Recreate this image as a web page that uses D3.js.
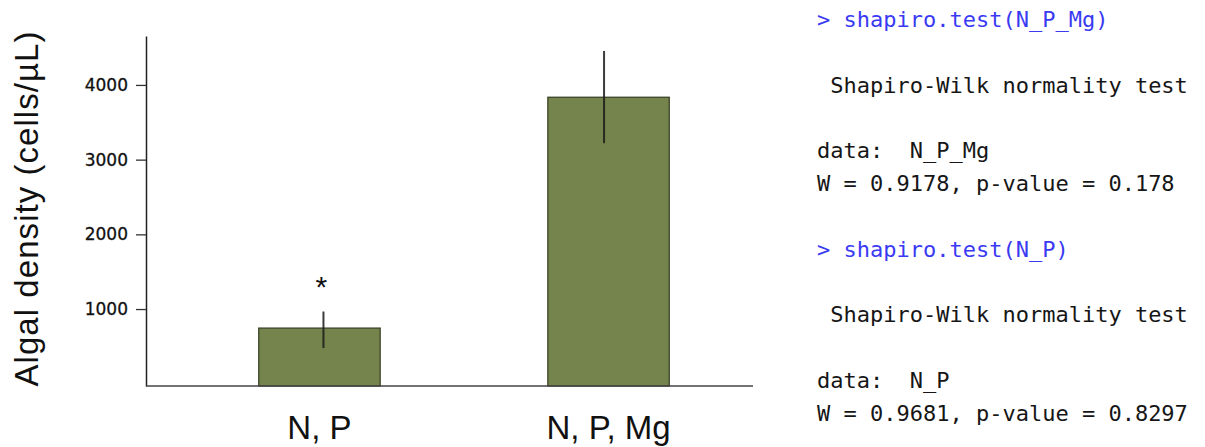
<!DOCTYPE html>
<html>
<head>
<meta charset="utf-8">
<script src="https://cdn.jsdelivr.net/npm/d3@7"></script>
<style>
body{margin:0;background:#fff}
svg{display:block}
.console text{white-space:pre}
</style>
</head>
<body>
<script>
// chart values
var categories = ["N, P", "N, P, Mg"]
var means = [745, 3835]
var errLow = [478, 3220]
var errHigh = [967, 4455]
var marks = ["*", ""]
var yTicks = [1000, 2000, 3000, 4000]
var yTitle = "Algal density (cells/\u00B5L)"

// R console output shown at the right
var consoleText = [
	"> shapiro.test(N_P_Mg)",
	"",
	" Shapiro-Wilk normality test",
	"",
	"data:  N_P_Mg",
	"W = 0.9178, p-value = 0.178",
	"",
	"> shapiro.test(N_P)",
	"",
	" Shapiro-Wilk normality test",
	"",
	"data:  N_P",
	"W = 0.9681, p-value = 0.8297"
]
var consoleIsCommand = [true,false,false,false,false,false,false,true,false,false,false,false,false]

var width = 1205
var height = 447
var barColor = "#74844c"

var svg = d3.select("body").append("svg")
	.attr("width", width)
	.attr("height", height)

var scaleY = d3.scaleLinear().domain([-30, 4655]).range([386, 36])
var scaleX = d3.scaleBand().domain(categories)
	.range([146, 782])
	.paddingInner(0.58)
	.paddingOuter(0.39)

// small sideways shift of each error whisker, as in the original
var errNudge = [4, -4.5]

var bars = svg.append("g").attr("class", "bars")
bars.selectAll("rect")
	.data(categories)
	.enter()
	.append("rect")
	.attr("x", function(d){return scaleX(d)})
	.attr("y", function(d, i){return scaleY(means[i])})
	.attr("width", scaleX.bandwidth())
	.attr("height", function(d, i){return scaleY.range()[0] - scaleY(means[i])})
	.attr("fill", barColor)
	.attr("stroke", "#3c4428")
	.attr("stroke-width", 1.3)

bars.selectAll("line.err")
	.data(categories)
	.enter()
	.append("line")
	.attr("class", "err")
	.attr("x1", function(d, i){return scaleX(d) + scaleX.bandwidth()/2 + errNudge[i]})
	.attr("x2", function(d, i){return scaleX(d) + scaleX.bandwidth()/2 + errNudge[i]})
	.attr("y1", function(d, i){return scaleY(errHigh[i])})
	.attr("y2", function(d, i){return scaleY(errLow[i])})
	.attr("stroke", "#1a1a1a")
	.attr("stroke-opacity", 0.85)
	.attr("stroke-width", 2)

bars.selectAll("text.mark")
	.data(categories)
	.enter()
	.append("text")
	.attr("class", "mark")
	.attr("x", function(d, i){return scaleX(d) + scaleX.bandwidth()/2 + 2})
	.attr("y", function(d, i){return scaleY(errHigh[i]) - 15})
	.attr("text-anchor", "middle")
	.attr("font-family", "Liberation Sans, Arial, sans-serif")
	.attr("font-size", 30)
	.attr("fill", "#111")
	.text(function(d, i){return marks[i]})

// y axis
var yAxis = d3.axisLeft(scaleY)
	.tickValues(yTicks)
	.tickFormat(d3.format("d"))
	.tickSize(10)
	.tickSizeOuter(0)
	.tickPadding(8)
var gy = svg.append("g")
	.attr("class", "y axis")
	.attr("transform", "translate(146,0)")
	.call(yAxis)
gy.select(".domain").attr("stroke", "#222").attr("stroke-width", 1.5)
gy.selectAll(".tick line").attr("stroke", "#333").attr("stroke-width", 1.3)
gy.selectAll(".tick text")
	.attr("font-family", "DejaVu Sans, sans-serif")
	.attr("font-size", 17)
	.attr("fill", "#111")
	.attr("stroke", "#111")
	.attr("stroke-width", 0.3)

// x axis: plain baseline plus labels
svg.append("line")
	.attr("x1", 146).attr("x2", 753)
	.attr("y1", scaleY.range()[0]).attr("y2", scaleY.range()[0])
	.attr("stroke", "#444")
	.attr("stroke-width", 1.5)

svg.append("g").attr("class", "x labels")
	.selectAll("text")
	.data(categories)
	.enter()
	.append("text")
	.attr("x", function(d){return scaleX(d) + scaleX.bandwidth()/2})
	.attr("y", 439)
	.attr("text-anchor", "middle")
	.attr("font-family", "Liberation Sans, Arial, sans-serif")
	.attr("font-size", 33)
	.attr("fill", "#111")
	.text(function(d){return d})

svg.append("text")
	.attr("transform", "translate(38,209) rotate(-90)")
	.attr("text-anchor", "middle")
	.attr("font-family", "Liberation Sans, Arial, sans-serif")
	.attr("font-size", 33)
	.attr("textLength", 355)
	.attr("lengthAdjust", "spacing")
	.attr("fill", "#111")
	.text(yTitle)

// console block
svg.append("g").attr("class", "console")
	.selectAll("text")
	.data(consoleText)
	.enter()
	.append("text")
	.attr("x", 817)
	.attr("y", function(d, i){return 27 + i*32.8})
	.attr("font-family", "DejaVu Sans Mono, monospace")
	.attr("font-size", 22)
	.attr("fill", function(d, i){return consoleIsCommand[i] ? "#3a3af2" : "#161616"})
	.text(function(d){return d})
</script>
</body>
</html>
